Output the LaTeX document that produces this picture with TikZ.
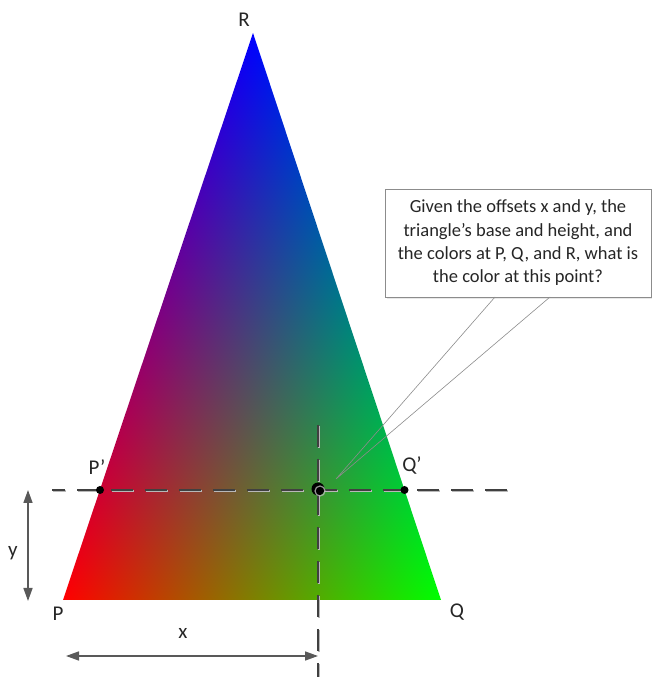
\documentclass[tikz,border=0pt]{standalone}
\usepackage{fontspec}
\setmainfont{Carlito}
\usepackage{tikz}
\usetikzlibrary{arrows.meta,positioning,shadows}
\definecolor{ink}{HTML}{262626}
\definecolor{guide}{HTML}{404040}
\definecolor{guideshade}{HTML}{B8B8B8}
\definecolor{measure}{HTML}{595959}
\definecolor{frame}{HTML}{8C8C8C}

% red at P, green at Q, blue at R (bbox maps to 25bp..75bp)
\pgfdeclarefunctionalshading{rgbcorners}{\pgfpoint{0bp}{0bp}}{\pgfpoint{100bp}{100bp}}{}{
  25 sub 50 div exch 25 sub 50 div exch
  dup 0.5 mul 3 -1 roll 2 copy
  1 exch sub exch sub
  3 1 roll exch sub
  3 -1 roll
}

\begin{document}
\begin{tikzpicture}[
  x=1pt,
  y=1pt,
  corner/.style={font=\fontsize{21}{21}\selectfont,text=ink,inner sep=0pt},
  dot/.style={circle,fill=black,inner sep=0pt,minimum size=8pt},
  target/.style={circle,fill=black,inner sep=0pt,minimum size=13pt},
  guide/.style={
    draw=guide,line width=2.5pt,dash pattern=on 22pt off 12pt
  },
  guideshadow/.style={guide,draw=guideshade},
  measure/.style={
    {Triangle[length=13pt,width=9pt]}-{Triangle[length=13pt,width=9pt]},
    draw=measure,line width=1.6pt
  },
  note/.style={
    draw=frame,fill=white,line width=0.8pt,align=center,
    minimum width=266pt,minimum height=108pt,text=ink,
    font=\fontsize{18.5}{23.3}\selectfont,
    drop shadow={shadow xshift=2pt,shadow yshift=-2pt,opacity=0.18}
  },
  pointer/.style={draw=frame,line width=0.6pt}
]
  \useasboundingbox (0,0) rectangle (652,677);

  \coordinate (P) at (63,77);
  \coordinate (Q) at (441,77);
  \coordinate (R) at (253,644);
  \shade[shading=rgbcorners] (P) -- (Q) -- (R) -- cycle;

  \coordinate (h-start) at (52,187);
  \coordinate (h-end) at (508,187);
  \coordinate (v-start) at (318,252);
  \coordinate (v-end) at (318,0);
  \draw[guideshadow,dash phase=9pt,transform canvas={shift={(0.8pt,-1.1pt)}}]
    (h-start) -- (h-end);
  \draw[guideshadow,transform canvas={shift={(1.1pt,-0.8pt)}}]
    (v-start) -- (v-end);
  \draw[guide,dash phase=9pt] (h-start) -- (h-end);
  \draw[guide] (v-start) -- (v-end);

  \node[dot] (pp) at (100,187) {};
  \node[dot] (qq) at (404.5,187) {};
  \node[target] (pt) at (318,188) {};
  \draw[guideshade,opacity=0.8,line width=1.2pt] ([shift={(2,-2)}]pt.center) circle (5pt);

  \node[note] (callout) at (518,434)
    {Given the offsets x and y, the\\triangle’s base and height, and\\the colors at P, Q, and R, what is\\the color at this point?};
  \coordinate (tip) at (336,198);
  \coordinate (foot-a) at (495,380);
  \coordinate (foot-b) at (550,380);
  \draw[pointer] (foot-a) -- (tip) -- (foot-b);

  \node[corner] (r-label) at (244,657) {R};
  \node[corner] (pp-label) at (97,210) {P’};
  \node[corner] (qq-label) at (412,212) {Q’};
  \node[corner] (p-label) at (58,63) {P};
  \node[corner] (q-label) at (457,65) {Q};
  \node[corner] (y-label) at (13,124) {y};
  \node[corner] (x-label) at (183,44) {x};

  \coordinate (y-top) at (28,187);
  \coordinate (y-bot) at (28,76);
  \coordinate (x-left) at (66,21);
  \coordinate (x-right) at (318,21);
  \draw[measure] (y-top) -- (y-bot);
  \draw[measure] (x-left) -- (x-right);
\end{tikzpicture}
\end{document}
